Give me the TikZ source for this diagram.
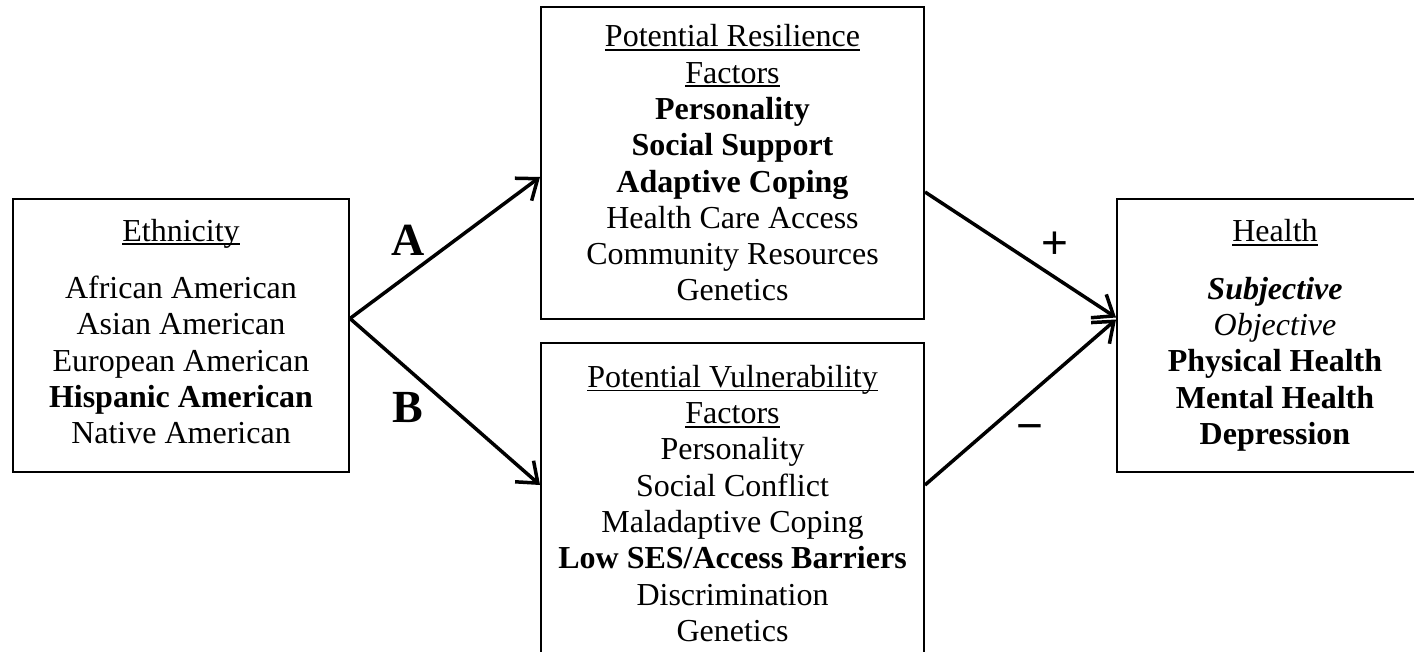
\documentclass[tikz,border=0pt]{standalone}
\usepackage{fontspec}
\setmainfont{Liberation Serif}
\newfontfamily\signfont{Liberation Sans}
\usepackage{tikz}
\usetikzlibrary{arrows.meta}
\newcommand{\undertext}[1]{\setbox0\hbox{#1}\rlap{\rule[-4pt]{\wd0}{1.8pt}}\box0}
\tikzstyle{factorbox} = [rectangle, draw=black, line width=2pt, inner sep=0pt, align=center,
font=\fontsize{32}{36.3}\selectfont]
\tikzstyle{arrow} = [line width=3.5pt, -{Straight Barb[length=18pt, width=28pt]}]
\tikzstyle{pathlabel} = [inner sep=0pt, font=\fontsize{46}{50}\selectfont\bfseries]
\tikzstyle{signlabel} = [inner sep=0pt, font=\fontsize{46}{50}\selectfont\signfont]

\begin{document}
\begin{tikzpicture}[x=1pt, y=-1pt]
  \useasboundingbox (0,0) rectangle (1414,652);

  \node (eth) [factorbox, minimum width=336pt, minimum height=273pt] at (181,335.5)
  {\undertext{Ethnicity}\\[21pt] African American\\ Asian American\\ European American\\
    \textbf{Hispanic American}\\ Native American\\[-28pt]};
  \node (res) [factorbox, minimum width=383pt, minimum height=312pt] at (732.5,163)
  {\undertext{Potential Resilience}\\ \undertext{Factors}\\ \textbf{Personality}\\
    \textbf{Social Support}\\ \textbf{Adaptive Coping}\\ Health Care Access\\
    Community Resources\\ Genetics};
  \node (vul) [factorbox, minimum width=383pt, minimum height=321pt] at (732.5,503.5)
  {\undertext{Potential Vulnerability}\\ \undertext{Factors}\\ Personality\\
    Social Conflict\\ Maladaptive Coping\\ \textbf{Low SES/Access Barriers}\\
    Discrimination\\ Genetics};
  \node (health) [factorbox, minimum width=316pt, minimum height=273pt] at (1275,335.5)
  {\undertext{Health}\\[21pt] \textbf{\textit{Subjective}}\\ \textit{Objective}\\
    \textbf{Physical Health}\\ \textbf{Mental Health}\\ \textbf{Depression}};

  \draw[arrow] ([yshift=17pt]eth.east) -- ([yshift=-14pt]res.west);
  \draw[arrow] ([yshift=17pt]eth.east) -- ([yshift=18.5pt]vul.west);
  \draw[arrow] ([yshift=-29pt]res.east) -- ([yshift=18pt]health.west);
  \draw[arrow] ([yshift=18.5pt]vul.east) -- ([yshift=16pt]health.west);

  \node (labA) [pathlabel] at (408,240) {A};
  \node (labB) [pathlabel] at (408,408) {B};
  \node (plus) [signlabel] at (1055,245) {+};
  \node (minus) [signlabel] at (1030,433) {−};
\end{tikzpicture}
\end{document}
